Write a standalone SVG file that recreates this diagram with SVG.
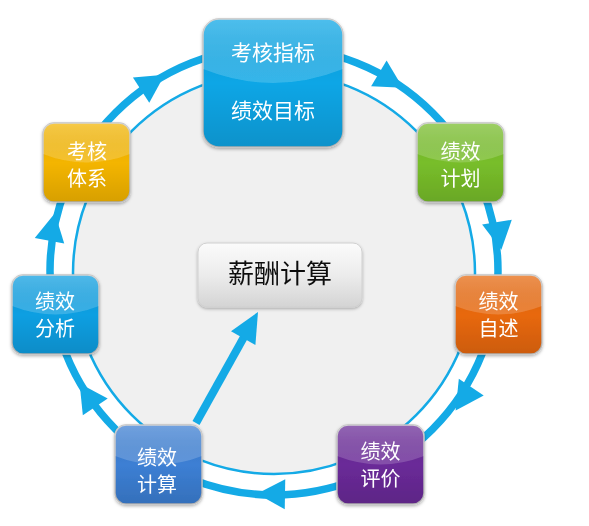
<svg xmlns="http://www.w3.org/2000/svg" xmlns:xlink="http://www.w3.org/1999/xlink" width="589" height="526" viewBox="0 0 589 526">
<style>
.ring{fill:none;stroke:#14aae6;stroke-width:7.5}
.inner{fill:#f0f0f0;stroke:#14aae6;stroke-width:2.5}
.ah{fill:#14aae6}
.box{stroke:#c4c4c4;stroke-width:1.5}
.gloss{fill:#ffffff;opacity:0.18}
.shade{fill:url(#shade)}
.t{font-family:"Noto Sans CJK SC","Noto Sans",sans-serif;font-size:20px;fill:#ffffff;text-anchor:middle}
.tc{font-family:"Noto Sans CJK SC","Noto Sans",sans-serif;font-size:26px;fill:#111111;text-anchor:middle}
</style>
<defs>
<linearGradient id="shade" x1="0" y1="0" x2="0" y2="1">
<stop offset="0" stop-color="#ffffff" stop-opacity="0.12"/>
<stop offset="0.5" stop-color="#000000" stop-opacity="0"/>
<stop offset="1" stop-color="#000000" stop-opacity="0.12"/>
</linearGradient>
<linearGradient id="gray" x1="0" y1="0" x2="0" y2="1">
<stop offset="0" stop-color="#fbfbfb"/>
<stop offset="0.5" stop-color="#ececec"/>
<stop offset="1" stop-color="#d4d4d4"/>
</linearGradient>
<filter id="sh" x="-20%" y="-20%" width="140%" height="140%">
<feDropShadow dx="0" dy="1.5" stdDeviation="1.5" flood-color="#000000" flood-opacity="0.3"/>
</filter>
<rect id="sbox" x="0" y="0" width="87" height="79" rx="11"/>
<path id="sgloss" d="M0,31 L0,11 Q0,0 11,0 L76,0 Q87,0 87,11 L87,31 Q43.5,48 0,31 Z"/>
<path id="arrowhead" d="M15,0 L-13,-15 L-13,15 Z"/>
</defs>

<circle class="ring" cx="274" cy="271" r="224"/>
<circle class="inner" cx="274" cy="273" r="201"/>

<g id="connectors">
<use href="#arrowhead" class="ah" transform="translate(390,80) rotate(31)"/>
<use href="#arrowhead" class="ah" transform="translate(499,235) rotate(81)"/>
<use href="#arrowhead" class="ah" transform="translate(464,398) rotate(124)"/>
<use href="#arrowhead" class="ah" transform="translate(272,494) rotate(181)"/>
<use href="#arrowhead" class="ah" transform="translate(88,396) rotate(236)"/>
<use href="#arrowhead" class="ah" transform="translate(52,228) rotate(281)"/>
<use href="#arrowhead" class="ah" transform="translate(152,83) rotate(327)"/>
<line x1="196" y1="423" x2="244" y2="337" stroke="#14aae6" stroke-width="8"/>
<polygon points="258,312 255.4,345 231,331.2" fill="#14aae6"/>
</g>

<g id="n-top" filter="url(#sh)">
<rect class="box" x="203" y="19" width="140" height="128" rx="16" fill="#0aa6e6"/>
<rect x="203" y="19" width="140" height="128" rx="16" class="shade"/>
<path class="gloss" d="M203,69 L203,35 Q203,19 219,19 L327,19 Q343,19 343,35 L343,69 Q273,97 203,69 Z"/>
<text class="t" x="273" y="60" style="font-size:21px">考核指标</text>
<text class="t" x="273" y="118" style="font-size:21px">绩效目标</text>
</g>

<g id="n-plan" transform="translate(417,123)" filter="url(#sh)">
<use href="#sbox" class="box" fill="#78be2a"/>
<use href="#sbox" class="shade"/>
<use href="#sgloss" class="gloss"/>
<text class="t" x="43.5" y="36">绩效</text>
<text class="t" x="43.5" y="63">计划</text>
</g>

<g id="n-self" transform="translate(455,275)" filter="url(#sh)">
<use href="#sbox" class="box" fill="#e8680c"/>
<use href="#sbox" class="shade"/>
<use href="#sgloss" class="gloss"/>
<text class="t" x="43.5" y="34">绩效</text>
<text class="t" x="43.5" y="61">自述</text>
</g>

<g id="n-eval" transform="translate(337,425)" filter="url(#sh)">
<use href="#sbox" class="box" fill="#6a2a98"/>
<use href="#sbox" class="shade"/>
<use href="#sgloss" class="gloss"/>
<text class="t" x="43.5" y="34">绩效</text>
<text class="t" x="43.5" y="61">评价</text>
</g>

<g id="n-calc" transform="translate(115,425)" filter="url(#sh)">
<use href="#sbox" class="box" fill="#3c7fd4"/>
<use href="#sbox" class="shade"/>
<use href="#sgloss" class="gloss"/>
<text class="t" x="42" y="40">绩效</text>
<text class="t" x="42" y="67">计算</text>
</g>

<g id="n-anal" transform="translate(12,275)" filter="url(#sh)">
<use href="#sbox" class="box" fill="#0c9fe2"/>
<use href="#sbox" class="shade"/>
<use href="#sgloss" class="gloss"/>
<text class="t" x="43" y="34">绩效</text>
<text class="t" x="43" y="61">分析</text>
</g>

<g id="n-sys" transform="translate(43,123)" filter="url(#sh)">
<use href="#sbox" class="box" fill="#f4b500"/>
<use href="#sbox" class="shade"/>
<use href="#sgloss" class="gloss"/>
<text class="t" x="44" y="36">考核</text>
<text class="t" x="44" y="63">体系</text>
</g>

<g id="n-center" filter="url(#sh)">
<rect x="198" y="243" width="164" height="64" rx="9" fill="url(#gray)" stroke="#d0d0d0" stroke-width="1"/>
<text class="tc" x="280" y="283">薪酬计算</text>
</g>
</svg>
